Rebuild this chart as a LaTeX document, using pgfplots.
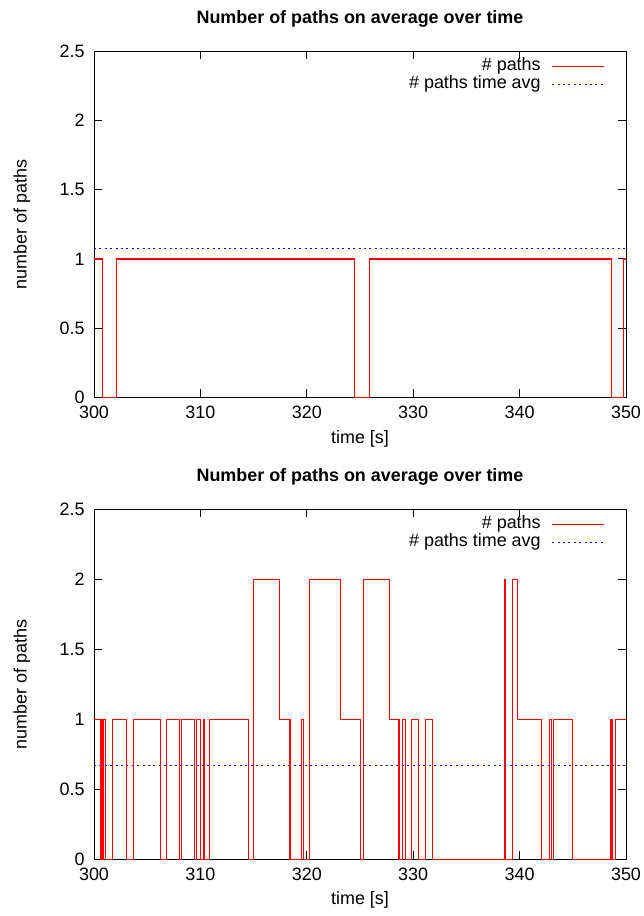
\documentclass[border=0pt]{standalone}
\usepackage{fontspec}
\setmainfont{Liberation Sans}
\usepackage{pgfplots}
\pgfplotsset{compat=1.18}

\pgfplotsset{
  gp/.style={
    scale only axis,
    width=532bp,
    anchor=south west,
    xmin=300, xmax=350, ymin=0, ymax=2.5,
    xtick={300,310,320,330,340,350},
    ytick={0,0.5,1,1.5,2,2.5},
    minor tick num=0,
    tick align=inside,
    major tick length=8bp,
    axis line style={line width=1bp, black},
    every tick/.style={line width=1bp, black},
    /pgf/number format/assume math mode=true,
    tick label style={font=\fontsize{18}{21}\selectfont},
    xticklabel style={yshift=-5bp},
    yticklabel style={xshift=-6bp},
    label style={font=\fontsize{18}{21}\selectfont},
    title={Number of paths on average over time},
    title style={font=\fontsize{18}{21}\selectfont\bfseries, at={(axis description cs:0.5,1)}, anchor=base, yshift=22bp},
    xlabel={time [s]},
    ylabel={number of paths},
    xlabel style={at={(axis description cs:0.5,0)}, anchor=center, yshift=-41bp},
    ylabel style={at={(axis description cs:-0.1353,0.5)}, anchor=center},
    legend plot pos=right,
    legend cell align=right,
    legend style={draw=none, fill=none, inner sep=0pt, column sep=11bp,
      at={(axis description cs:0.9605,0.983)}, anchor=north east,
      font=\fontsize{18}{18}\selectfont,
      nodes={inner sep=0pt, text height=13bp, text depth=5bp}},
    legend image code/.code={\draw[##1] (0bp,0bp) -- (52bp,0bp);},
  },
  pathline/.style={const plot, draw=red, line width=1.1bp},
  avgline/.style={draw=blue, line width=1.1bp, dash pattern=on 2bp off 3.4bp},
}

\begin{document}
\begin{tikzpicture}
\useasboundingbox (0bp,0bp) rectangle (644bp,916bp);

% ---------- top panel ----------
\begin{axis}[gp, at={(94bp,518.5bp)}, height=346.3bp]
\addplot[pathline] coordinates {
 (300,1) (300.78,0) (302.10,1) (324.50,0) (325.90,1) (348.60,0) (349.80,1) (350,1)
};
\addlegendentry{\# paths}
\addplot[avgline] coordinates {(300,1.075) (350,1.075)};
\addlegendentry{\# paths time avg}
\end{axis}

% ---------- bottom panel ----------
\begin{axis}[gp, at={(94bp,56.7bp)}, height=350bp]
\addplot[pathline] coordinates {
 (300.000,1) (300.657,0) (300.845,1) (301.080,0) (301.709,1) (303.052,0)
 (303.681,1) (306.244,0) (306.808,1) (308.028,0) (308.244,1) (309.437,0)
 (309.671,1) (310.000,0) (310.254,1) (310.376,0) (310.873,1) (314.507,0)
 (314.977,2) (317.418,1) (318.423,0) (319.512,1) (319.700,0) (320.235,2)
 (323.174,1) (325.052,0) (325.333,2) (327.765,1) (328.667,0) (329.033,1)
 (329.277,0) (329.859,1) (330.488,0) (331.155,1) (331.784,0) (338.563,2)
 (338.695,0) (339.296,2) (339.793,1) (342.038,0) (342.798,1) (342.977,0)
 (343.192,1) (344.948,0) (348.545,1) (348.685,0) (349.033,1) (350.000,1)
};
\addlegendentry{\# paths}
\addplot[avgline] coordinates {(300,0.667) (350,0.667)};
\addlegendentry{\# paths time avg}
\end{axis}
\end{tikzpicture}
\end{document}
